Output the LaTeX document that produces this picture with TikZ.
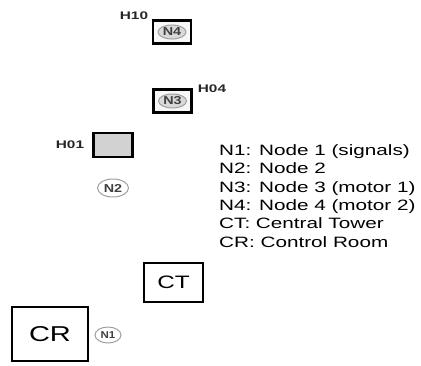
\documentclass[tikz,border=0pt]{standalone}
\usepackage{fontspec}
\usepackage{graphicx}
\setmainfont{Liberation Sans}
\usetikzlibrary{shapes.geometric}
\newcommand{\stx}[2][1.38]{\scalebox{#1}[1]{#2}}
\begin{document}
\begin{tikzpicture}[x=1pt,y=-1pt,
  hbox/.style={draw=black, line width=2pt, inner sep=0pt},
  nell/.style={ellipse, draw=gray!75, line width=1pt, inner sep=0pt,
    minimum width=28pt, minimum height=14pt,
    font=\fontsize{11.5}{13}\selectfont\bfseries, text=black!75},
  hlab/.style={font=\fontsize{11}{12}\selectfont\bfseries, text=black!85, inner sep=0pt},
  leg/.style={anchor=base west, inner sep=0pt, font=\fontsize{15}{17}\selectfont, text=black},
  big/.style={hbox, font=\fontsize{18}{20}\selectfont}]
\useasboundingbox (0,0) rectangle (421,365);

% N4 box
\node[hbox, line width=2.4pt, fill=gray!6, minimum width=38pt, minimum height=23pt] (b4) at (172,32) {};
\node[nell, fill=gray!30] (n4) at (b4.center) {\stx[1.25]{N4}};
\node[hlab] (h10) at (134,16) {\stx[1.4]{H10}};

% N3 box
\node[hbox, line width=2.4pt, fill=gray!6, minimum width=38pt, minimum height=23pt] (b3) at (172.5,101) {};
\node[nell, fill=gray!30] (n3) at (b3.center) {\stx[1.25]{N3}};
\node[hlab] (h04) at (212,89) {\stx[1.4]{H04}};

% H01 box
\node[hbox, line width=2.2pt, fill=gray!35, minimum width=39pt, minimum height=24pt] (b1) at (113,145) {};
\node[hlab] (h01) at (70,145) {\stx[1.4]{H01}};

% N2
\node[nell, fill=white, minimum width=31pt, minimum height=18pt] (n2) at (113,188) {\stx[1.25]{N2}};

% CT
\node[big, minimum width=59pt, minimum height=39pt] (ct) at (173.5,282.5) {\stx[1.35]{CT}};

% CR
\node[big, minimum width=76pt, minimum height=54pt, font=\fontsize{21.5}{23}\selectfont] (cr) at (50,334) {\stx[1.35]{CR}};

% N1
\node[nell, fill=white, minimum width=26pt, minimum height=16pt, font=\fontsize{10}{11}\selectfont\bfseries] (n1) at (108,335) {\stx[1.15]{N1}};

% legend
\node[leg] (l1) at (219,155.5) {\stx{N1: Node 1 (signals)}};
\node[leg] (l2) at (219,173.8) {\stx{N2: Node 2}};
\node[leg] (l3) at (219,192.1) {\stx{N3: Node 3 (motor 1)}};
\node[leg] (l4) at (219,210.4) {\stx{N4: Node 4 (motor 2)}};
\node[leg] (l5) at (219,228.7) {\stx{CT: Central Tower}};
\node[leg] (l6) at (219,247.0) {\stx{CR: Control Room}};
\end{tikzpicture}
\end{document}
